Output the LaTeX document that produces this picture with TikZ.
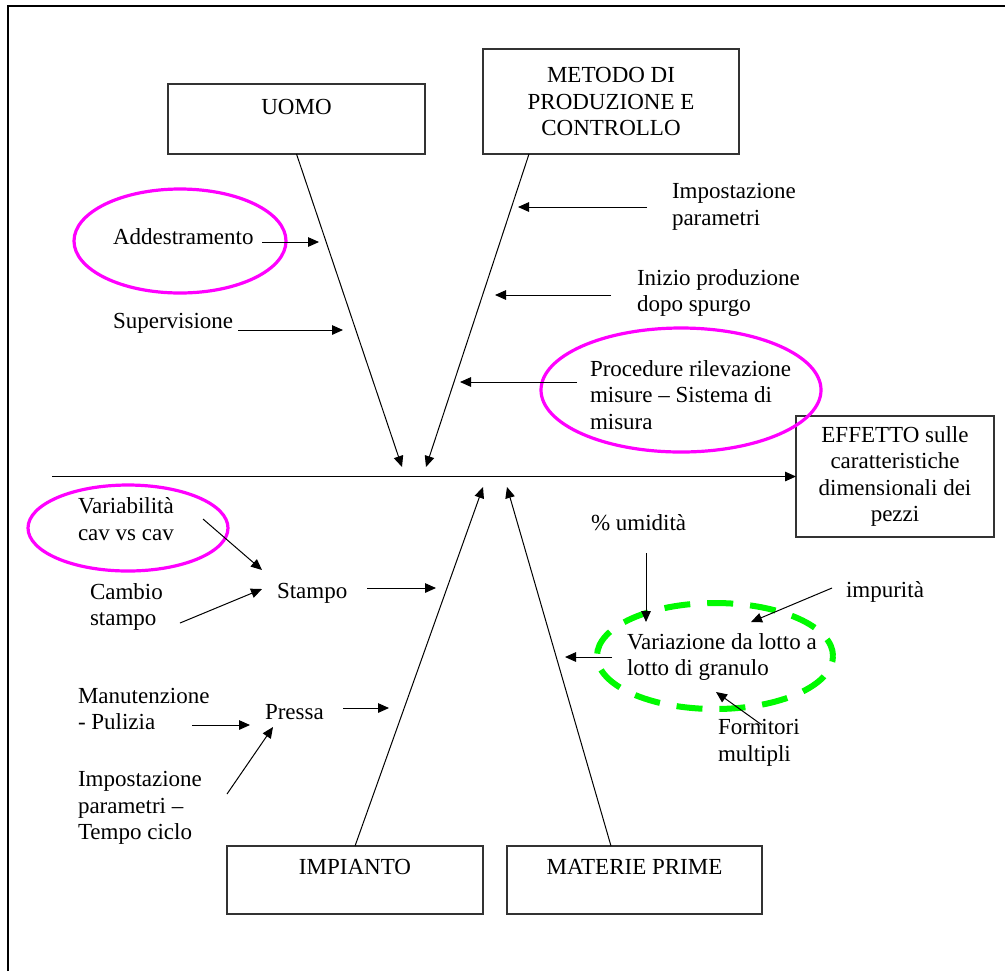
\documentclass[tikz,border=0pt]{standalone}
\usepackage{fontspec}
\setmainfont{Liberation Serif}
\usetikzlibrary{arrows.meta,shapes.geometric}
\definecolor{hilite}{RGB}{255,0,255}
\definecolor{lotgreen}{RGB}{0,250,0}
\begin{document}
\begin{tikzpicture}[x=0.5pt,y=-0.5pt,
  every node/.style={font=\fontsize{11.5}{13.3}\selectfont, inner sep=0pt, outer sep=0pt},
  txt/.style={anchor=west, align=left},
  catbox/.style={draw=black!80, line width=0.65pt, rectangle, align=center},
  arr/.style={line width=0.5pt, -{Triangle[length=5.5pt,width=4.8pt]}},
  bone/.style={line width=0.5pt, -{Triangle[length=5.5pt,width=4.8pt]}},
  ring/.style={draw=hilite, line width=1.6pt, ellipse},
  dashring/.style={draw=lotgreen, line width=3pt, ellipse, dash pattern=on 13pt off 8.5pt, dash phase=4pt}]

\useasboundingbox (0,0) rectangle (1005,971);

% page frame (open at right and bottom)
\draw[line width=1pt] (7.5,971) -- (7.5,5.5) -- (1005,5.5);

% category boxes
\node[catbox, minimum width=128.5pt, minimum height=35pt,
      label={[anchor=center,yshift=-11.5pt]north:UOMO}] (uomo) at (296.5,119) {};
\node[catbox, minimum width=128pt, minimum height=52.5pt] (metodo) at (611,101.5)
  {METODO DI\\PRODUZIONE E\\CONTROLLO};
\node[catbox, minimum width=99pt, minimum height=60.5pt] (effetto) at (895,476.5)
  {EFFETTO sulle\\caratteristiche\\dimensionali dei\\pezzi};
\node[catbox, minimum width=128pt, minimum height=34pt,
      label={[anchor=center,yshift=-10.5pt]north:IMPIANTO}] (impianto) at (355,880) {};
\node[catbox, minimum width=127.5pt, minimum height=34pt,
      label={[anchor=center,yshift=-10.5pt]north:MATERIE PRIME}] (materie) at (634.5,880) {};

% highlight rings
\node[ring, minimum width=106pt, minimum height=52pt] (ringA) at (180,241) {};
\node[ring, minimum width=140pt, minimum height=62pt] (ringP) at (681,390) {};
\node[ring, minimum width=100pt, minimum height=43pt] (ringV) at (128,528) {};
\node[dashring, minimum width=118pt, minimum height=53pt] (ringL) at (715,656) {};

% cause labels
\node[txt] (addes) at (113,237) {Addestramento};
\node[txt] (superv) at (113,323) {Supervisione};
\node[txt] (imppar) at (672,207) {Impostazione\\parametri};
\node[txt] (inizio) at (637,293) {Inizio produzione\\dopo spurgo};
\node[txt] (proc) at (590,395) {Procedure rilevazione\\misure -- Sistema di\\misura};
\node[txt] (varcav) at (78,519) {Variabilità\\cav vs cav};
\node[txt] (cambio) at (90,607) {Cambio\\stampo};
\node[txt] (stampo) at (277,593) {Stampo};
\node[txt] (manut) at (78,709) {Manutenzione\\- Pulizia};
\node[txt] (pressa) at (265,712) {Pressa};
\node[txt] (imptempo) at (78,808) {Impostazione\\parametri --\\Tempo ciclo};
\node[txt] (umid) at (591,523) {\% umidità};
\node[txt] (impur) at (846,592) {impurità};
\node[txt] (varlot) at (627,657) {Variazione da lotto a\\lotto di granulo};
\node[txt] (fornit) at (718,743) {Fornitori\\multipli};

% spine
\coordinate (spine) at (52,476.5);
\draw[arr] (spine) -- (effetto.west);

% main bones
\coordinate (tipU) at (402,467);
\coordinate (footM) at (529,154);
\coordinate (tipM) at (426,467);
\coordinate (tipI) at (483,487);
\coordinate (footR) at (611,846);
\coordinate (tipR) at (507,487);
\draw[bone] (uomo.south) -- (tipU);
\draw[bone] (footM) -- (tipM);
\draw[bone] (impianto.north) -- (tipI);
\draw[bone] (footR) -- (tipR);

% cause arrows
\coordinate (a1s) at (262,242);  \coordinate (a1e) at (319,242);
\coordinate (a2s) at (238,330);  \coordinate (a2e) at (343,330);
\coordinate (a3s) at (647,207);  \coordinate (a3e) at (518,207);
\coordinate (a4s) at (611,295);  \coordinate (a4e) at (495,295);
\coordinate (a5s) at (577,382);  \coordinate (a5e) at (460,382);
\draw[arr] (a1s) -- (a1e);
\draw[arr] (a2s) -- (a2e);
\draw[arr] (a3s) -- (a3e);
\draw[arr] (a4s) -- (a4e);
\draw[arr] (a5s) -- (a5e);

\coordinate (b1s) at (203,519);  \coordinate (b1e) at (262,570);
\coordinate (b2s) at (180,623);  \coordinate (b2e) at (262,589);
\coordinate (b3s) at (367,588);  \coordinate (b3e) at (436,588);
\coordinate (b4s) at (192,725);  \coordinate (b4e) at (250,725);
\coordinate (b5s) at (227,794);  \coordinate (b5e) at (273,727);
\coordinate (b6s) at (343,708);  \coordinate (b6e) at (389,708);
\draw[arr] (b1s) -- (b1e);
\draw[arr] (b2s) -- (b2e);
\draw[arr] (b3s) -- (b3e);
\draw[arr] (b4s) -- (b4e);
\draw[arr] (b5s) -- (b5e);
\draw[arr] (b6s) -- (b6e);

\coordinate (c1s) at (646,553);  \coordinate (c1e) at (646,622);
\coordinate (c2s) at (832,588);  \coordinate (c2e) at (751,622);
\coordinate (c3s) at (612,657);  \coordinate (c3e) at (565,657);
\coordinate (c4s) at (762,725);  \coordinate (c4e) at (716,692);
\draw[arr] (c1s) -- (c1e);
\draw[arr] (c2s) -- (c2e);
\draw[arr] (c3s) -- (c3e);
\draw[arr] (c4s) -- (c4e);
\end{tikzpicture}
\end{document}
